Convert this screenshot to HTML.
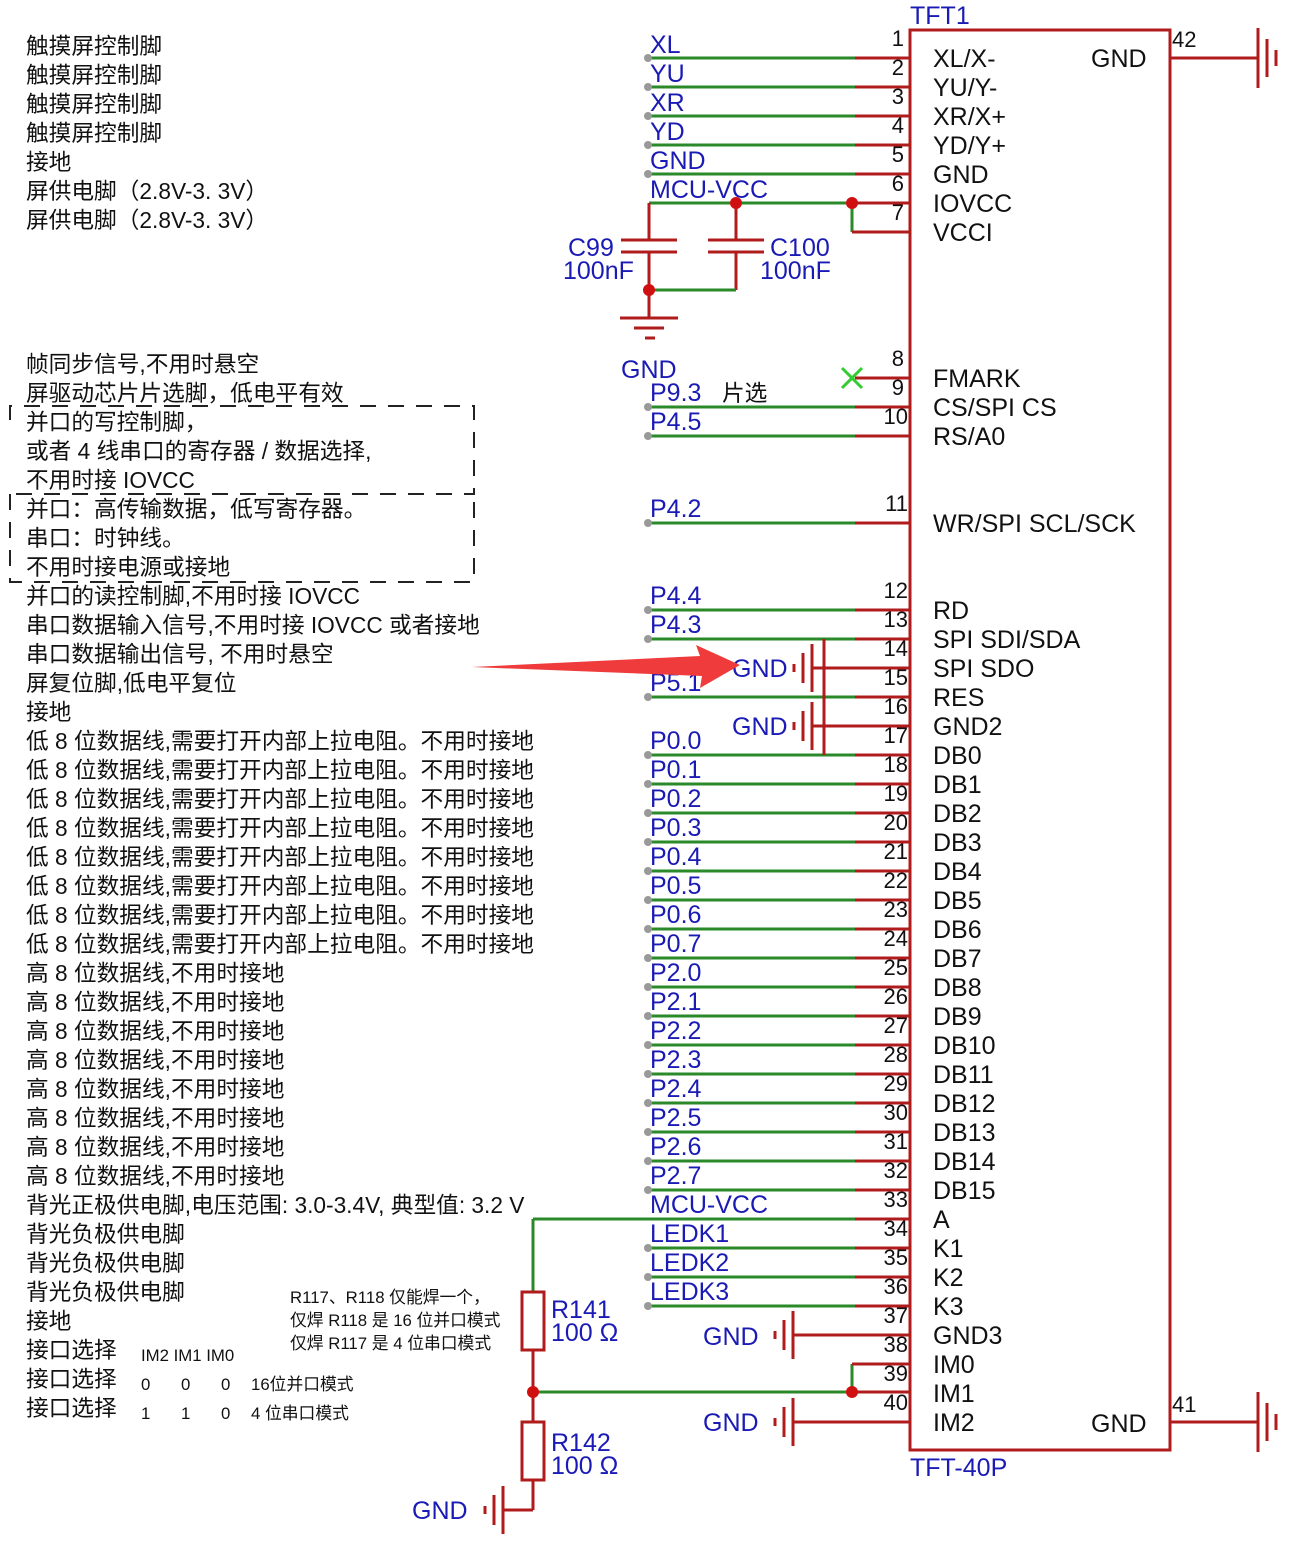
<!DOCTYPE html><html><head><meta charset="utf-8"><style>
body{margin:0;background:#fff}
svg{display:block}
.l{font:22.7px "Liberation Sans","Noto Sans CJK SC",sans-serif;fill:#111}
.s{font:16.8px "Liberation Sans","Noto Sans CJK SC",sans-serif;fill:#111}
.n{font:25px "Liberation Sans",sans-serif;fill:#1a1ab4}
.p{font:25px "Liberation Sans",sans-serif;fill:#111}
.q{font:22px "Liberation Sans",sans-serif;fill:#111}
</style></head><body>
<svg id="s" width="1293" height="1551" xmlns="http://www.w3.org/2000/svg">
<g id="w"></g>
<rect x="910" y="30" width="260" height="1420" fill="none" stroke="#b01c1c" stroke-width="3"/>
<text class="n" x="910" y="24">TFT1</text>
<text class="n" x="910" y="1476">TFT-40P</text>
<text class="q" x="1172" y="47">42</text><text class="q" x="1172" y="1412">41</text>
<text class="p" x="1091" y="67">GND</text><text class="p" x="1091" y="1432">GND</text>
<g class="p">
<text x="933" y="67">XL/X-</text><text x="933" y="96">YU/Y-</text><text x="933" y="125">XR/X+</text><text x="933" y="154">YD/Y+</text><text x="933" y="183">GND</text><text x="933" y="212">IOVCC</text><text x="933" y="241">VCCI</text>
<text x="933" y="387">FMARK</text><text x="933" y="416">CS/SPI CS</text><text x="933" y="445">RS/A0</text><text x="933" y="532">WR/SPI SCL/SCK</text>
<text x="933" y="619">RD</text><text x="933" y="648">SPI SDI/SDA</text><text x="933" y="677">SPI SDO</text><text x="933" y="706">RES</text><text x="933" y="735">GND2</text>
<text x="933" y="764">DB0</text><text x="933" y="793">DB1</text><text x="933" y="822">DB2</text><text x="933" y="851">DB3</text><text x="933" y="880">DB4</text><text x="933" y="909">DB5</text><text x="933" y="938">DB6</text><text x="933" y="967">DB7</text><text x="933" y="996">DB8</text><text x="933" y="1025">DB9</text><text x="933" y="1054">DB10</text><text x="933" y="1083">DB11</text><text x="933" y="1112">DB12</text><text x="933" y="1141">DB13</text><text x="933" y="1170">DB14</text><text x="933" y="1199">DB15</text>
<text x="933" y="1228">A</text><text x="933" y="1257">K1</text><text x="933" y="1286">K2</text><text x="933" y="1315">K3</text><text x="933" y="1344">GND3</text><text x="933" y="1373">IM0</text><text x="933" y="1402">IM1</text><text x="933" y="1431">IM2</text>
</g>
<g class="q" text-anchor="end">
<text x="904" y="46">1</text><text x="904" y="75">2</text><text x="904" y="104">3</text><text x="904" y="133">4</text><text x="904" y="162">5</text><text x="904" y="191">6</text><text x="904" y="220">7</text>
<text x="904" y="366">8</text><text x="904" y="395">9</text><text x="908" y="424">10</text><text x="908" y="511">11</text>
<text x="908" y="598">12</text><text x="908" y="627">13</text><text x="908" y="656">14</text><text x="908" y="685">15</text><text x="908" y="714">16</text><text x="908" y="743">17</text><text x="908" y="772">18</text><text x="908" y="801">19</text><text x="908" y="830">20</text><text x="908" y="859">21</text><text x="908" y="888">22</text><text x="908" y="917">23</text><text x="908" y="946">24</text><text x="908" y="975">25</text><text x="908" y="1004">26</text><text x="908" y="1033">27</text><text x="908" y="1062">28</text><text x="908" y="1091">29</text><text x="908" y="1120">30</text><text x="908" y="1149">31</text><text x="908" y="1178">32</text><text x="908" y="1207">33</text><text x="908" y="1236">34</text><text x="908" y="1265">35</text><text x="908" y="1294">36</text><text x="908" y="1323">37</text><text x="908" y="1352">38</text><text x="908" y="1381">39</text><text x="908" y="1410">40</text>
</g>
<g class="n">
<text x="650" y="53">XL</text><text x="650" y="82">YU</text><text x="650" y="111">XR</text><text x="650" y="140">YD</text><text x="650" y="169">GND</text><text x="650" y="198">MCU-VCC</text>
<text x="568" y="256">C99</text><text x="563" y="279">100nF</text><text x="770" y="256">C100</text><text x="760" y="279">100nF</text>
<text x="621" y="378">GND</text>
<text x="650" y="401">P9.3</text><text x="650" y="430">P4.5</text><text x="650" y="517">P4.2</text>
<text x="650" y="604">P4.4</text><text x="650" y="633">P4.3</text><text x="650" y="691">P5.1</text>
<text x="732" y="677">GND</text><text x="732" y="735">GND</text>
<text x="650" y="749">P0.0</text><text x="650" y="778">P0.1</text><text x="650" y="807">P0.2</text><text x="650" y="836">P0.3</text><text x="650" y="865">P0.4</text><text x="650" y="894">P0.5</text><text x="650" y="923">P0.6</text><text x="650" y="952">P0.7</text>
<text x="650" y="981">P2.0</text><text x="650" y="1010">P2.1</text><text x="650" y="1039">P2.2</text><text x="650" y="1068">P2.3</text><text x="650" y="1097">P2.4</text><text x="650" y="1126">P2.5</text><text x="650" y="1155">P2.6</text><text x="650" y="1184">P2.7</text>
<text x="650" y="1213">MCU-VCC</text><text x="650" y="1242">LEDK1</text><text x="650" y="1271">LEDK2</text><text x="650" y="1300">LEDK3</text>
<text x="703" y="1345">GND</text><text x="703" y="1431">GND</text>
<text x="551" y="1318">R141</text><text x="551" y="1341">100 Ω</text><text x="551" y="1451">R142</text><text x="551" y="1474">100 Ω</text>
<text x="412" y="1519">GND</text>
</g>
<text class="l" x="722" y="401">片选</text>
<g class="l">
<text x="26" y="54">触摸屏控制脚</text><text x="26" y="83">触摸屏控制脚</text><text x="26" y="112">触摸屏控制脚</text><text x="26" y="141">触摸屏控制脚</text><text x="26" y="170">接地</text><text x="26" y="199">屏供电脚（2.8V-3. 3V）</text><text x="26" y="228">屏供电脚（2.8V-3. 3V）</text>
<text x="26" y="372">帧同步信号,不用时悬空</text><text x="26" y="401">屏驱动芯片片选脚，低电平有效</text><text x="26" y="430">并口的写控制脚，</text><text x="26" y="459">或者 4 线串口的寄存器 / 数据选择,</text><text x="26" y="488">不用时接 IOVCC</text><text x="26" y="517">并口：高传输数据，低写寄存器。</text><text x="26" y="546">串口：时钟线。</text><text x="26" y="575">不用时接电源或接地</text><text x="26" y="604">并口的读控制脚,不用时接 IOVCC</text><text x="26" y="633">串口数据输入信号,不用时接 IOVCC 或者接地</text><text x="26" y="662">串口数据输出信号, 不用时悬空</text><text x="26" y="691">屏复位脚,低电平复位</text><text x="26" y="720">接地</text>
<text x="26" y="749">低 8 位数据线,需要打开内部上拉电阻。不用时接地</text><text x="26" y="778">低 8 位数据线,需要打开内部上拉电阻。不用时接地</text><text x="26" y="807">低 8 位数据线,需要打开内部上拉电阻。不用时接地</text><text x="26" y="836">低 8 位数据线,需要打开内部上拉电阻。不用时接地</text><text x="26" y="865">低 8 位数据线,需要打开内部上拉电阻。不用时接地</text><text x="26" y="894">低 8 位数据线,需要打开内部上拉电阻。不用时接地</text><text x="26" y="923">低 8 位数据线,需要打开内部上拉电阻。不用时接地</text><text x="26" y="952">低 8 位数据线,需要打开内部上拉电阻。不用时接地</text>
<text x="26" y="981">高 8 位数据线,不用时接地</text><text x="26" y="1010">高 8 位数据线,不用时接地</text><text x="26" y="1039">高 8 位数据线,不用时接地</text><text x="26" y="1068">高 8 位数据线,不用时接地</text><text x="26" y="1097">高 8 位数据线,不用时接地</text><text x="26" y="1126">高 8 位数据线,不用时接地</text><text x="26" y="1155">高 8 位数据线,不用时接地</text><text x="26" y="1184">高 8 位数据线,不用时接地</text>
<text x="26" y="1213">背光正极供电脚,电压范围: 3.0-3.4V, 典型值: 3.2 V</text><text x="26" y="1242">背光负极供电脚</text><text x="26" y="1271">背光负极供电脚</text><text x="26" y="1300">背光负极供电脚</text><text x="26" y="1329">接地</text><text x="26" y="1358">接口选择</text><text x="26" y="1387">接口选择</text><text x="26" y="1416">接口选择</text>
</g>
<g class="s">
<text x="290" y="1303">R117、R118 仅能焊一个，</text><text x="290" y="1326">仅焊 R118 是 16 位并口模式</text><text x="290" y="1349">仅焊 R117 是 4 位串口模式</text>
<text x="141" y="1361">IM2 IM1 IM0</text>
<text x="141" y="1390">0</text><text x="181" y="1390">0</text><text x="221" y="1390">0</text><text x="251" y="1390">16位并口模式</text>
<text x="141" y="1419">1</text><text x="181" y="1419">1</text><text x="221" y="1419">0</text><text x="251" y="1419">4 位串口模式</text>
</g>
<path d="M10,420 V406 H474 V494 H10 V506 M10,494 V582 H474 V494" fill="none" stroke="#222" stroke-width="2" stroke-dasharray="16,12"/>
<polygon points="472,667 700,656 696,645 740,665 700,688 702,676" fill="#ef3b3b"/>
</svg>
<script>
var R="#b01c1c",G="#2a8a2a",w=document.getElementById('w'),h='';
function L(x1,y1,x2,y2,c){h+='<line x1="'+x1+'" y1="'+y1+'" x2="'+x2+'" y2="'+y2+'" stroke="'+c+'" stroke-width="3"/>';}
function D(x,y,c,r){h+='<circle cx="'+x+'" cy="'+y+'" r="'+(r||6)+'" fill="'+c+'"/>';}
function P(y,x0,dot){L(x0,y,855,y,G);L(855,y,910,y,R);if(dot)D(648,y,"#999",4);}
function GV(x,y){L(x,y-24,x,y+24,R);L(x-9,y-15,x-9,y+15,R);L(x-18,y-4,x-18,y+4,R);}
function GR(x,y){L(x,y-30,x,y+30,R);L(x+9,y-19,x+9,y+19,R);L(x+18,y-8,x+18,y+8,R);}
[58,87,116,145,174].forEach(function(y){P(y,648,1)});
P(203,649,0);L(852,203,852,232,G);L(852,232,910,232,R);
L(649,203,649,240,R);L(649,252,649,318,R);L(736,203,736,240,R);L(736,252,736,290,R);
L(621,240,677,240,R);L(621,252,677,252,R);L(708,240,764,240,R);L(708,252,764,252,R);
L(649,290,736,290,G);D(649,290,"#d01010");D(736,203,"#d01010");D(852,203,"#d01010");
L(620,318,678,318,R);L(634,328,664,328,R);L(645,338,655,338,R);
L(855,378,910,378,R);L(842,368,862,388,"#3c3");L(862,368,842,388,"#3c3");
[407,436,523,610,639,697].forEach(function(y){P(y,648,1)});
for(var i=0;i<16;i++)P(755+29*i,648,1);
P(1219,533,0);[1248,1277,1306].forEach(function(y){P(y,648,1)});
L(824,639,824,755,R);L(812,668,910,668,R);L(812,726,910,726,R);GV(812,668);GV(812,726);
L(793,1335,910,1335,R);GV(793,1335);L(793,1422,910,1422,R);GV(793,1422);
L(533,1219,533,1292,G);h+='<rect x="522" y="1292" width="22" height="58" fill="none" stroke="'+R+'" stroke-width="3"/>';
L(533,1350,533,1422,R);h+='<rect x="522" y="1422" width="22" height="58" fill="none" stroke="'+R+'" stroke-width="3"/>';
L(533,1480,533,1510,R);L(503,1510,533,1510,R);GV(503,1510);
L(533,1392,852,1392,G);L(852,1392,910,1392,R);L(852,1364,852,1392,G);L(852,1364,910,1364,R);D(533,1392,"#d01010");D(852,1392,"#d01010");
L(1170,58,1258,58,R);GR(1258,58);L(1170,1422,1258,1422,R);GR(1258,1422);
w.innerHTML=h;
</script>
</body></html>
